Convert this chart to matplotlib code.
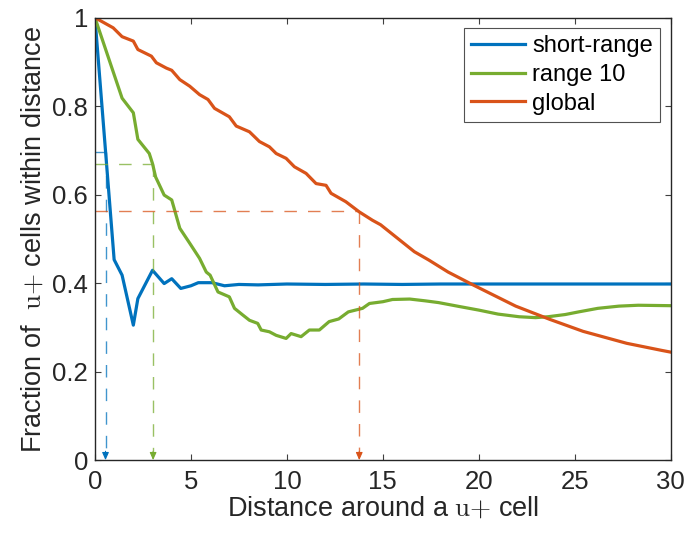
import numpy as np
import matplotlib
matplotlib.use("Agg")
import matplotlib.pyplot as plt

# curve data
x_short = [0, 1, 1.414, 2, 2.236, 3, 3.606, 4, 4.472, 5, 5.385, 6.1, 6.75, 7.5, 8.5,
           10, 12, 14, 16, 18, 20, 22, 24, 26, 28, 30]
y_short = [1, 0.453, 0.418, 0.305, 0.365, 0.429, 0.399, 0.41, 0.388, 0.394, 0.401, 0.401,
           0.394, 0.397, 0.396, 0.398, 0.397, 0.398, 0.397, 0.398, 0.398, 0.398, 0.398,
           0.398, 0.398, 0.398]

x_range10 = [0, 1.414, 2, 2.236, 2.83, 3, 3.16, 3.606, 4, 4.42, 4.94, 5.45, 5.8, 6.0,
             6.41, 7.0, 7.27, 7.7, 8.05, 8.48, 8.66, 9.09, 9.44, 9.96, 10.22, 10.74,
             11.17, 11.69, 12.2, 12.7, 13.2, 13.94, 14.3, 15.0, 15.5, 16.4, 17.2, 17.9,
             19.0, 20.0, 21.0, 22.1, 22.95, 23.6, 24.5, 25.2, 26.2, 27.3, 28.3, 30]
y_range10 = [1, 0.818, 0.785, 0.725, 0.693, 0.670, 0.640, 0.599, 0.588, 0.524, 0.49,
             0.456, 0.425, 0.418, 0.38, 0.369, 0.343, 0.328, 0.316, 0.309, 0.294, 0.29,
             0.282, 0.275, 0.286, 0.279, 0.294, 0.294, 0.313, 0.319, 0.335, 0.343, 0.354,
             0.358, 0.363, 0.364, 0.36, 0.356, 0.347, 0.339, 0.33, 0.324, 0.322, 0.324,
             0.329, 0.335, 0.343, 0.348, 0.35, 0.349]

x_global = [0, 0.95, 1.414, 2, 2.236, 2.94, 3.2, 3.72, 4, 4.42, 4.94, 5.45, 5.89, 6.23,
            7.0, 7.36, 8.05, 8.57, 9.09, 9.44, 9.96, 10.39, 11.0, 11.52, 12.04, 12.3,
            13.07, 13.77, 14.46, 14.88, 16.64, 17.4, 18.4, 19.65, 21.92, 23.7, 25.43,
            27.7, 29.52, 30]
y_global = [1, 0.977, 0.957, 0.947, 0.928, 0.913, 0.898, 0.886, 0.881, 0.86, 0.845,
            0.826, 0.815, 0.795, 0.776, 0.755, 0.742, 0.72, 0.708, 0.693, 0.682, 0.663,
            0.648, 0.625, 0.621, 0.603, 0.584, 0.561, 0.542, 0.532, 0.471, 0.452, 0.425,
            0.397, 0.348, 0.318, 0.291, 0.264, 0.248, 0.244]

labels = ["short-range", "range 10", "global"]
colors = ["#0072BD", "#77AC30", "#D95319"]

# threshold crossings marked with dashed guides
mark_x = [0.55, 3.03, 13.77]
mark_y = [0.697, 0.670, 0.563]

plt.rcParams.update({
    "font.family": "Liberation Sans",
    "mathtext.fontset": "cm",
    "font.size": 18,
    "axes.linewidth": 1.0,
    "axes.edgecolor": "#262626",
})

fig = plt.figure(figsize=(6.88, 5.35), dpi=100)
ax = fig.add_axes([0.138, 0.140, 0.837, 0.827])

for xs, ys, lab, c in zip([x_short, x_range10, x_global],
                          [y_short, y_range10, y_global], labels, colors):
    ax.plot(xs, ys, color=c, lw=2.3, label=lab, solid_joinstyle="round")

for mx, my, c in zip(mark_x, mark_y, colors):
    ax.plot([0, mx], [my, my], color=c, lw=1.0, alpha=0.75,
            linestyle=(0, (9, 8)))
    ax.plot([mx, mx], [my, 0.02], color=c, lw=1.0, alpha=0.75,
            linestyle=(0, (9, 8)))
    ax.annotate("", xy=(mx, 0), xytext=(mx, 0.02),
                arrowprops=dict(arrowstyle="-|>,head_length=0.45,head_width=0.2",
                                color=c, lw=0.8, shrinkA=0, shrinkB=0,
                                mutation_scale=10))

ax.set_xlim(0, 30)
ax.set_ylim(0, 1)
ax.set_xticks([0, 5, 10, 15, 20, 25, 30])
ax.set_yticks([0, 0.2, 0.4, 0.6, 0.8, 1])
ax.set_yticklabels(["0", "0.2", "0.4", "0.6", "0.8", "1"])
ax.tick_params(direction="in", top=True, right=True, length=4, width=0.8,
               color="#404040", labelsize=18.5, labelcolor="#262626", pad=5)
ax.tick_params(axis="x", pad=7)

ax.set_xlabel(r"Distance around a $\mathrm{u}{+}$ cell", fontsize=19.5,
              color="#262626", labelpad=1)
ax.set_ylabel(r"Fraction of  $\mathrm{u}{+}$ cells within distance", fontsize=19.5,
              color="#262626", labelpad=4)

leg = ax.legend(loc="upper right", fontsize=17, frameon=True, fancybox=False,
                edgecolor="#262626", handlelength=2.3, handletextpad=0.3,
                labelspacing=0.28, borderpad=0.3, borderaxespad=0.45)
leg.get_frame().set_linewidth(0.8)

fig.savefig("out.png", dpi=100)
